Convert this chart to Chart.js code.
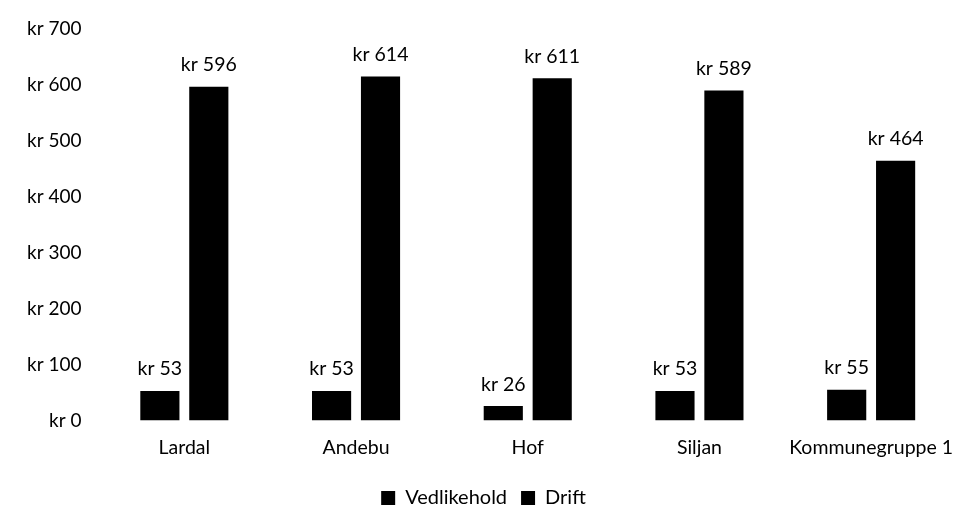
<!DOCTYPE html>
<html>
<head>
<meta charset="utf-8">
<script src="https://cdn.jsdelivr.net/npm/chart.js@4/dist/chart.umd.min.js"></script>
<style>
  html, body { margin: 0; padding: 0; background: #fff; }
  #wrap { width: 974px; height: 514px; }
</style>
</head>
<body>
<div id="wrap"><canvas id="c" width="974" height="514"></canvas></div>
<script>
const categories = ['Lardal', 'Andebu', 'Hof', 'Siljan', 'Kommunegruppe 1'];
const vedlikehold = [53, 53, 26, 53, 55];
const drift = [596, 614, 611, 589, 464];
const yTicks = [0, 100, 200, 300, 400, 500, 600, 700];

const fontFamily = "Lato, 'Open Sans', sans-serif";

// value labels above each bar
const barLabels = {
  id: 'barLabels',
  afterDatasetsDraw(chart) {
    const ctx = chart.ctx;
    ctx.save();
    ctx.fillStyle = '#000';
    ctx.font = '19.5px ' + fontFamily;
    ctx.textAlign = 'center';
    ctx.textBaseline = 'bottom';
    chart.data.datasets.forEach((ds, i) => {
      chart.getDatasetMeta(i).data.forEach((bar, j) => {
        ctx.fillText('kr ' + ds.data[j], bar.x, bar.y - 12);
      });
    });
    ctx.restore();
  }
};

new Chart(document.getElementById('c').getContext('2d'), {
  type: 'bar',
  data: {
    labels: categories,
    datasets: [
      { label: 'Vedlikehold', data: vedlikehold, backgroundColor: '#000' },
      { label: 'Drift', data: drift, backgroundColor: '#000' }
    ]
  },
  options: {
    responsive: false,
    animation: false,
    layout: { padding: { left: 10, right: 17, top: 24, bottom: -4 } },
    datasets: { bar: { categoryPercentage: 0.57, barPercentage: 0.8 } },
    plugins: {
      legend: {
        position: 'bottom',
        labels: {
          color: '#000',
          font: { family: fontFamily, size: 20 },
          boxWidth: 14,
          boxHeight: 14,
          padding: 14
        }
      },
      tooltip: { enabled: false }
    },
    scales: {
      x: {
        grid: { display: false, drawTicks: false },
        border: { display: false },
        ticks: {
          color: '#000',
          font: { family: fontFamily, size: 19.5 },
          padding: 15,
          maxRotation: 0,
          minRotation: 0,
          autoSkip: false
        }
      },
      y: {
        min: 0,
        max: 700,
        afterBuildTicks: axis => { axis.ticks = yTicks.map(v => ({ value: v })); },
        grid: { display: false, drawTicks: false },
        border: { display: false },
        ticks: {
          color: '#000',
          font: { family: fontFamily, size: 19 },
          padding: 17,
          callback: v => 'kr ' + v
        }
      }
    }
  },
  plugins: [barLabels]
});
</script>
</body>
</html>
